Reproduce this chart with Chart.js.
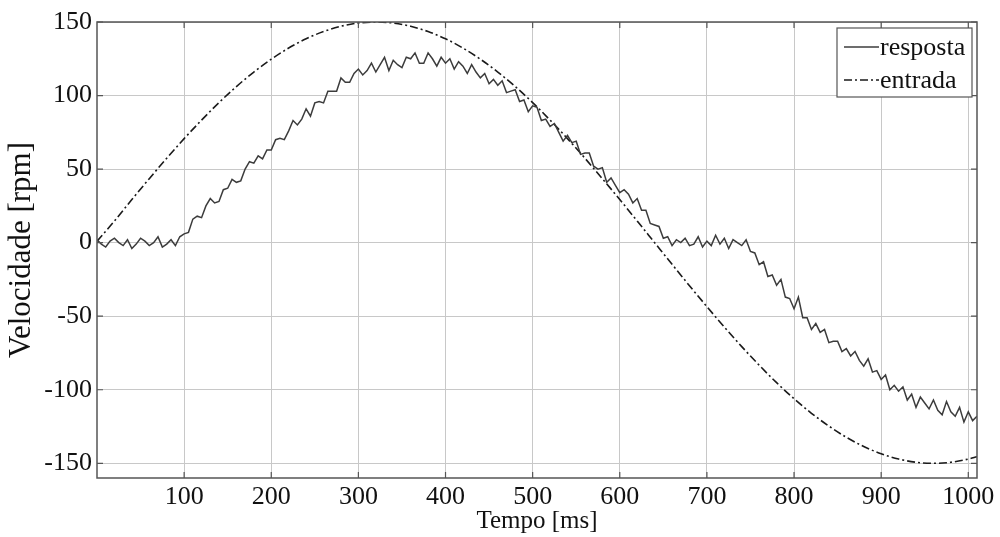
<!DOCTYPE html>
<html>
<head>
<meta charset="utf-8">
<script src="https://cdn.jsdelivr.net/npm/chart.js@4/dist/chart.umd.min.js"></script>
<style>
html,body{margin:0;padding:0;background:#fff;}
#wrap{width:1000px;height:537px;position:relative;}
</style>
</head>
<body>
<div id="wrap"><canvas id="c" width="1000" height="537"></canvas></div>
<script>
// ---- data ----
const xTicks = [100,200,300,400,500,600,700,800,900,1000];
const yTicks = [-150,-100,-50,0,50,100,150];

const entradaTempo = [0,20,40,60,80,100,120,140,160,180,200,220,240,260,280,300,320,340,360,380,400,420,440,460,480,500,520,540,560,580,600,620,640,660,680,700,720,740,760,780,800,820,840,860,880,900,920,940,960,980,1000,1010];
const entradaValores = [1,14.7,29.3,43.5,57.4,70.7,83.3,95.2,106.1,116.0,124.7,132.3,138.6,143.5,147.1,149.3,150,149.3,147.1,143.5,138.6,132.3,124.7,116.0,106.1,95.2,83.3,70.7,57.4,43.5,29.3,14.7,0,-14.7,-29.3,-43.5,-57.4,-70.7,-83.3,-95.2,-106.1,-116.0,-124.7,-132.3,-138.6,-143.5,-147.1,-149.3,-150,-149.3,-147.1,-145.5];

const respostaTempo = [0,5,10,15,20,25,30,35,40,45,50,55,60,65,70,75,80,85,90,95,
100,105,110,115,120,125,130,135,140,145,150,155,160,165,170,175,180,185,190,195,
200,205,210,215,220,225,230,235,240,245,250,255,260,265,270,275,280,285,290,295,
300,305,310,315,320,325,330,335,340,345,350,355,360,365,370,375,380,385,390,395,
400,405,410,415,420,425,430,435,440,445,450,455,460,465,470,475,480,485,490,495,
500,505,510,515,520,525,530,535,540,545,550,555,560,565,570,575,580,585,590,595,
600,605,610,615,620,625,630,635,640,645,650,655,660,665,670,675,680,685,690,695,
700,705,710,715,720,725,730,735,740,745,750,755,760,765,770,775,780,785,790,795,
800,805,810,815,820,825,830,835,840,845,850,855,860,865,870,875,880,885,890,895,
900,905,910,915,920,925,930,935,940,945,950,955,960,965,970,975,980,985,990,995,
1000,1005,1010];
const respostaValores = [2,-1,-3,1,3,0,-2,2,-4,-1,3,1,-2,0,4,-3,-1,2,-2,4,
6,7,16,18,17,25,30,27,28,36,37,43,41,42,50,55,54,59,57,63,
63,70,71,70,76,83,80,84,91,86,95,96,95,103,103,103,112,109,109,115,
118,114,117,122,116,121,126,117,124,121,119,126,125,129,122,122,129,125,120,126,
122,125,118,123,120,115,121,116,112,115,108,111,107,110,102,103,104,96,97,89,
93,92,83,84,79,81,75,69,73,68,69,60,61,61,52,50,51,41,44,39,
34,36,33,27,30,22,22,13,12,11,3,4,-2,2,0,3,-2,-1,4,-3,
1,-2,5,-1,3,-4,2,0,-2,2,-6,-7,-15,-13,-23,-22,-29,-25,-37,-38,
-45,-37,-51,-51,-59,-55,-61,-59,-68,-67,-67,-74,-72,-77,-74,-80,-84,-79,-88,-87,
-93,-90,-100,-97,-101,-98,-107,-103,-112,-105,-109,-113,-107,-114,-117,-108,-115,-118,-112,-122,
-115,-121,-118];

const serieNomes = ['resposta','entrada'];
const eixoX = 'Tempo [ms]';
const eixoY = 'Velocidade [rpm]';

// ---- chart ----
const FONT = "'Liberation Serif', 'Times New Roman', serif";
const toPts = (xs, ys) => xs.map((x,i)=>({x:x, y:ys[i]}));

const framePlugin = {
  id:'frame',
  afterDatasetsDraw(chart){
    const {ctx, chartArea:a, scales} = chart;
    ctx.save();
    ctx.strokeStyle = '#555';
    ctx.lineWidth = 1.5;
    ctx.setLineDash([]);
    ctx.strokeRect(a.left, a.top, a.right-a.left, a.bottom-a.top);
    ctx.lineWidth = 1.2;
    const L = 6;
    scales.x.ticks.forEach(t=>{
      const px = scales.x.getPixelForValue(t.value);
      ctx.beginPath();
      ctx.moveTo(px, a.bottom); ctx.lineTo(px, a.bottom-L);
      ctx.moveTo(px, a.top); ctx.lineTo(px, a.top+L);
      ctx.stroke();
    });
    scales.y.ticks.forEach(t=>{
      const py = scales.y.getPixelForValue(t.value);
      ctx.beginPath();
      ctx.moveTo(a.left, py); ctx.lineTo(a.left+L, py);
      ctx.moveTo(a.right, py); ctx.lineTo(a.right-L, py);
      ctx.stroke();
    });
    // legend box
    const bx = 837, by = 28, bw = 135, bh = 69;
    ctx.fillStyle = '#fff';
    ctx.fillRect(bx, by, bw, bh);
    ctx.strokeStyle = '#555';
    ctx.lineWidth = 1.2;
    ctx.strokeRect(bx, by, bw, bh);
    ctx.font = '26px ' + FONT;
    ctx.fillStyle = '#111';
    ctx.textBaseline = 'middle';
    ctx.textAlign = 'left';
    chart.data.datasets.forEach((ds,i)=>{
      const cy = by + 19 + i*33;
      ctx.strokeStyle = ds.borderColor;
      ctx.lineWidth = ds.borderWidth;
      ctx.setLineDash(ds.borderDash || []);
      ctx.beginPath();
      ctx.moveTo(bx+7, cy); ctx.lineTo(bx+42, cy);
      ctx.stroke();
      ctx.setLineDash([]);
      ctx.fillText(ds.label, bx+43, cy+1);
    });
    ctx.restore();
  }
};

new Chart(document.getElementById('c'), {
  type:'line',
  data:{
    datasets:[
      {label:serieNomes[0], data:toPts(respostaTempo, respostaValores), borderColor:'#3c3c3c', borderWidth:1.5, pointRadius:0, tension:0, fill:false},
      {label:serieNomes[1], data:toPts(entradaTempo, entradaValores), borderColor:'#1a1a1a', borderWidth:1.6, borderDash:[8,3,2,3], pointRadius:0, tension:0.4, cubicInterpolationMode:'monotone', fill:false}
    ]
  },
  options:{
    responsive:false,
    animation:false,
    layout:{padding:{top:22,right:23,left:0,bottom:0}},
    plugins:{legend:{display:false}, tooltip:{enabled:false}},
    scales:{
      x:{
        type:'linear', min:0, max:1010,
        afterBuildTicks(s){ s.ticks = xTicks.map(v=>({value:v})); },
        afterFit(s){ s.height = 59; },
        border:{display:false},
        grid:{color:'#c8c8c8', lineWidth:1, drawTicks:false},
        ticks:{color:'#111', font:{family:FONT, size:26}, padding:4, maxRotation:0, autoSkip:false, callback:(v)=>String(v)},
        title:{display:true, text:eixoX, color:'#111', font:{family:FONT, size:25, lineHeight:1.2}, padding:{top:0,bottom:1}}
      },
      y:{
        type:'linear', min:-160, max:150,
        afterBuildTicks(s){ s.ticks = yTicks.map(v=>({value:v})); },
        afterFit(s){ s.width = 97; },
        border:{display:false},
        grid:{color:'#c8c8c8', lineWidth:1, drawTicks:false},
        ticks:{color:'#111', font:{family:FONT, size:26}, padding:5, autoSkip:false, callback:(v)=>String(v)},
        title:{display:true, text:eixoY, color:'#111', font:{family:FONT, size:31, lineHeight:1.2}, padding:{top:3,bottom:0}}
      }
    }
  },
  plugins:[framePlugin]
});
</script>
</body>
</html>
